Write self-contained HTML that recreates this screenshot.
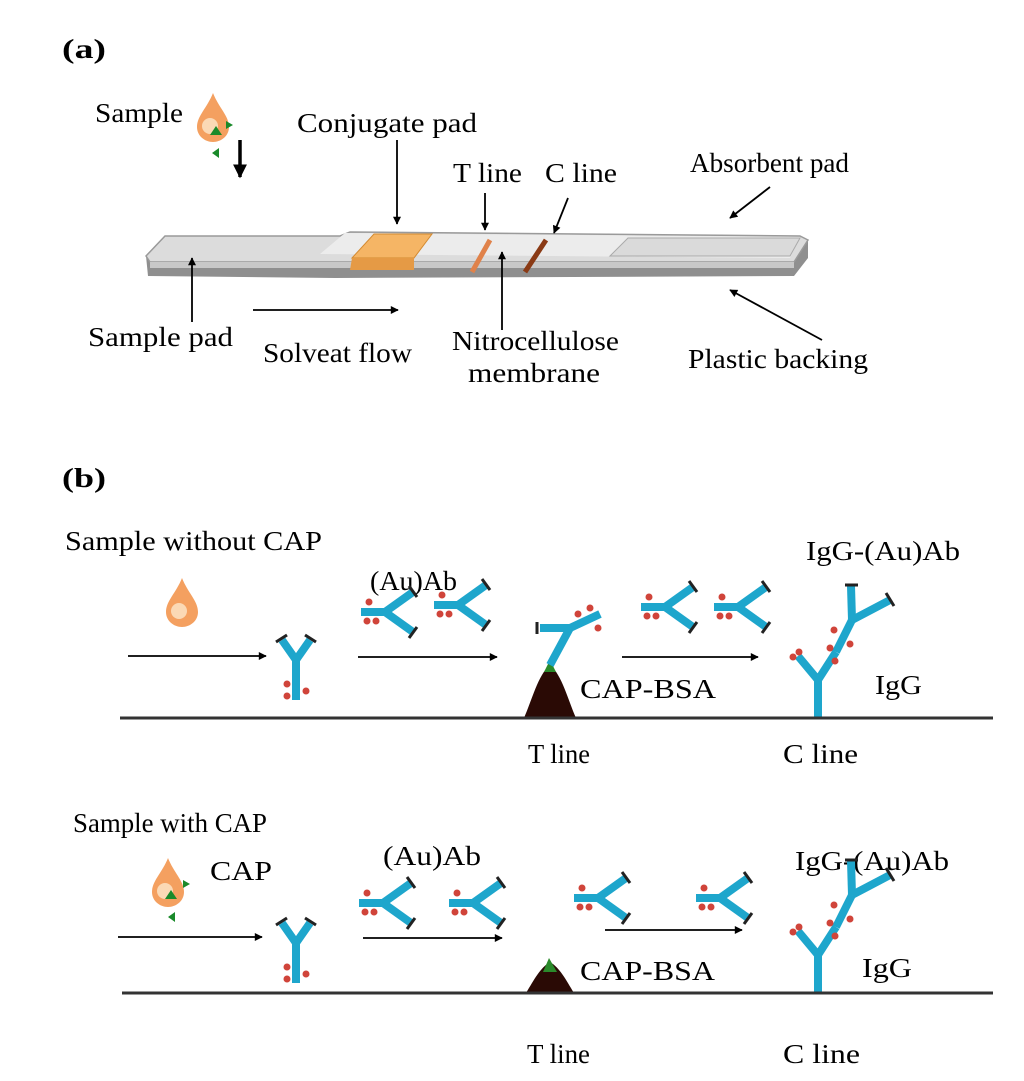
<!DOCTYPE html>
<html><head><meta charset="utf-8"><style>
html,body{margin:0;padding:0;background:#fff;}
svg{display:block;}
text{font-family:"Liberation Serif",serif;fill:#000;font-size:27px;}
</style></head><body>
<svg width="1024" height="1081" viewBox="0 0 1024 1081" xmlns="http://www.w3.org/2000/svg">
<defs>
<marker id="ah" viewBox="0 0 10 10" refX="9" refY="5" markerWidth="9" markerHeight="8" orient="auto-start-reverse" markerUnits="userSpaceOnUse"><path d="M0,0 L10,5 L0,10 z" fill="#000"/></marker>
<marker id="ahb" viewBox="0 0 10 10" refX="9" refY="5" markerWidth="14" markerHeight="14" orient="auto" markerUnits="userSpaceOnUse"><path d="M0,0 L10,5 L0,10 z" fill="#000"/></marker>
<g id="side">
<g stroke="#1ea6cc" stroke-width="8" stroke-linecap="butt" fill="none">
<line x1="-24" y1="0" x2="0" y2="0"/><line x1="0" y1="0" x2="28" y2="-20"/><line x1="0" y1="0" x2="28" y2="20"/></g>
<g stroke="#222" stroke-width="3"><line x1="24" y1="-26" x2="32" y2="-15"/><line x1="24" y1="26" x2="32" y2="15"/></g>
<g fill="#d0443a"><circle cx="-16" cy="-10" r="3.5"/><circle cx="-18" cy="9" r="3.5"/><circle cx="-9" cy="9" r="3.5"/></g>
</g>
<g id="up">
<g stroke="#1ea6cc" stroke-width="8" fill="none">
<line x1="0" y1="0" x2="0" y2="40"/><line x1="0" y1="0" x2="-14" y2="-20"/><line x1="0" y1="0" x2="14" y2="-20"/></g>
<g stroke="#222" stroke-width="3"><line x1="-20" y1="-18" x2="-9" y2="-25"/><line x1="20" y1="-18" x2="9" y2="-25"/></g>
<g fill="#d0443a"><circle cx="-9" cy="24" r="3.5"/><circle cx="-9" cy="36" r="3.5"/><circle cx="10" cy="31" r="3.5"/></g>
</g>
<g id="drop">
<path d="M0,-25 C6,-10 16,-2 16,9 C16,18 8,24 0,24 C-8,24 -16,18 -16,9 C-16,-2 -6,-10 0,-25 z" fill="#f4a060"/>
<circle cx="-3" cy="8" r="8" fill="#fbd9b5"/>
</g>
<g id="cline">
<g stroke="#1ea6cc" stroke-width="8" fill="none">
<line x1="0" y1="0" x2="0" y2="-38"/><line x1="0" y1="-38" x2="-20" y2="-62"/><line x1="0" y1="-38" x2="18" y2="-66"/>
<line x1="18" y1="-66" x2="34" y2="-98"/><line x1="34" y1="-98" x2="33" y2="-132"/><line x1="34" y1="-98" x2="72" y2="-118"/></g>
<g stroke="#222" stroke-width="3"><line x1="27" y1="-133" x2="40" y2="-133"/><line x1="68" y1="-125" x2="76" y2="-112"/></g>
<g fill="#d0443a"><circle cx="-25" cy="-61" r="3.5"/><circle cx="-19" cy="-66" r="3.5"/><circle cx="17" cy="-57" r="3.5"/><circle cx="12" cy="-70" r="3.5"/><circle cx="16" cy="-88" r="3.5"/><circle cx="32" cy="-74" r="3.5"/></g>
</g>
</defs>

<text x="62" y="58" font-weight="bold" textLength="44" lengthAdjust="spacingAndGlyphs">(a)</text>
<text x="95" y="122" textLength="88" lengthAdjust="spacingAndGlyphs">Sample</text>
<use href="#drop" x="213" y="118"/>
<path d="M226,121 l7,4 l-7,4 z M160,0 z M219,148 l-7,5 l7,5 z M216,126 l6,9 l-12,0z" fill="#1a8a2a"/>
<line x1="240" y1="140" x2="240" y2="177" stroke="#000" stroke-width="3.5" marker-end="url(#ahb)"/>
<text x="297" y="132" textLength="180" lengthAdjust="spacingAndGlyphs">Conjugate pad</text>
<text x="453" y="182" textLength="69" lengthAdjust="spacingAndGlyphs">T line</text>
<text x="545" y="182" textLength="72" lengthAdjust="spacingAndGlyphs">C line</text>
<text x="690" y="172" textLength="159" lengthAdjust="spacingAndGlyphs">Absorbent pad</text>

<!-- strip -->
<path d="M146,256 L165,236 L340,236 L350,232 L800,236 L808,240 L808,258 L794,276 L335,278 L148,276 z" fill="#8f8f8f"/>
<path d="M146,256 L165,236 L340,236 L350,232 L800,236 L808,240 L794,262 L150,262 z" fill="#dcdcdc" stroke="#9a9a9a" stroke-width="1.5"/>
<path d="M150,262 L794,262 L794,268 L150,268 z" fill="#c8c8c8"/>
<path d="M320,254 L345,233 L800,237 L790,258 Z" fill="#ececec"/>
<path d="M610,256 L628,238 L800,238 L790,256 z" fill="#dadada" stroke="#aaa" stroke-width="1"/>
<path d="M352,258 L374,234 L432,234 L414,258 z" fill="#f5b565" stroke="#d48a30" stroke-width="1"/>
<path d="M352,258 L414,258 L414,270 L350,270 z" fill="#e59a45"/>
<line x1="472" y1="272" x2="490" y2="240" stroke="#e0824a" stroke-width="5"/>
<line x1="525" y1="272" x2="546" y2="240" stroke="#8a3a15" stroke-width="5"/>

<line x1="397" y1="140" x2="397" y2="224" stroke="#000" stroke-width="1.8" marker-end="url(#ah)"/>
<line x1="485" y1="193" x2="485" y2="230" stroke="#000" stroke-width="1.8" marker-end="url(#ah)"/>
<line x1="568" y1="198" x2="554" y2="233" stroke="#000" stroke-width="1.8" marker-end="url(#ah)"/>
<line x1="770" y1="187" x2="730" y2="218" stroke="#000" stroke-width="1.8" marker-end="url(#ah)"/>
<line x1="192" y1="322" x2="192" y2="258" stroke="#000" stroke-width="1.8" marker-end="url(#ah)"/>
<line x1="253" y1="310" x2="398" y2="310" stroke="#000" stroke-width="1.8" marker-end="url(#ah)"/>
<line x1="502" y1="330" x2="502" y2="252" stroke="#000" stroke-width="1.8" marker-end="url(#ah)"/>
<line x1="822" y1="340" x2="730" y2="290" stroke="#000" stroke-width="1.8" marker-end="url(#ah)"/>

<text x="88" y="346" textLength="145" lengthAdjust="spacingAndGlyphs">Sample pad</text>
<text x="263" y="362" textLength="149" lengthAdjust="spacingAndGlyphs">Solveat flow</text>
<text x="452" y="350" textLength="167" lengthAdjust="spacingAndGlyphs">Nitrocellulose</text>
<text x="468" y="382" textLength="132" lengthAdjust="spacingAndGlyphs">membrane</text>
<text x="688" y="368" textLength="180" lengthAdjust="spacingAndGlyphs">Plastic backing</text>

<text x="62" y="487" font-weight="bold" textLength="44" lengthAdjust="spacingAndGlyphs">(b)</text>

<!-- section 1 -->
<text x="65" y="550" textLength="257" lengthAdjust="spacingAndGlyphs">Sample without CAP</text>
<use href="#drop" x="182" y="603"/>
<text x="370" y="590" textLength="87" lengthAdjust="spacingAndGlyphs">(Au)Ab</text>
<text x="806" y="560" textLength="154" lengthAdjust="spacingAndGlyphs">IgG-(Au)Ab</text>
<line x1="128" y1="656" x2="266" y2="656" stroke="#000" stroke-width="1.8" marker-end="url(#ah)"/>
<line x1="358" y1="657" x2="497" y2="657" stroke="#000" stroke-width="1.8" marker-end="url(#ah)"/>
<line x1="622" y1="657" x2="758" y2="657" stroke="#000" stroke-width="1.8" marker-end="url(#ah)"/>
<use href="#up" x="296" y="660"/>
<use href="#side" x="385" y="612"/>
<use href="#side" x="458" y="605"/>
<use href="#side" x="665" y="607"/>
<use href="#side" x="738" y="607"/>
<path d="M524,718 C532,700 538,675 550,665 C562,675 568,700 576,718 z" fill="#2a0a05"/>
<path d="M544,672 L550,660 L556,672 z" fill="#2a8a2a"/>
<g stroke="#1ea6cc" stroke-width="8" fill="none"><line x1="550" y1="665" x2="570" y2="628"/><line x1="570" y1="628" x2="540" y2="628"/><line x1="570" y1="628" x2="600" y2="614"/></g>
<line x1="537" y1="622" x2="537" y2="634" stroke="#222" stroke-width="3"/>
<g fill="#d0443a"><circle cx="578" cy="614" r="3.5"/><circle cx="590" cy="608" r="3.5"/><circle cx="598" cy="628" r="3.5"/></g>
<use href="#cline" x="818" y="718"/>
<text x="580" y="698" textLength="136" lengthAdjust="spacingAndGlyphs">CAP-BSA</text>
<text x="875" y="694" textLength="47" lengthAdjust="spacingAndGlyphs">IgG</text>
<line x1="120" y1="718" x2="993" y2="718" stroke="#333" stroke-width="3"/>
<text x="528" y="763" textLength="62" lengthAdjust="spacingAndGlyphs">T line</text>
<text x="783" y="763" textLength="75" lengthAdjust="spacingAndGlyphs">C line</text>

<!-- section 2 -->
<text x="73" y="832" textLength="194" lengthAdjust="spacingAndGlyphs">Sample with CAP</text>
<use href="#drop" x="168" y="883"/>
<path d="M183,880 l7,4 l-7,4 z M175,912 l-7,5 l7,5 z M171,890 l6,9 l-12,0z" fill="#1a8a2a"/>
<text x="210" y="880" textLength="62" lengthAdjust="spacingAndGlyphs">CAP</text>
<text x="383" y="865" textLength="98" lengthAdjust="spacingAndGlyphs">(Au)Ab</text>
<text x="795" y="870" textLength="154" lengthAdjust="spacingAndGlyphs">IgG-(Au)Ab</text>
<line x1="118" y1="937" x2="262" y2="937" stroke="#000" stroke-width="1.8" marker-end="url(#ah)"/>
<line x1="363" y1="938" x2="502" y2="938" stroke="#000" stroke-width="1.8" marker-end="url(#ah)"/>
<line x1="605" y1="930" x2="742" y2="930" stroke="#000" stroke-width="1.8" marker-end="url(#ah)"/>
<use href="#up" x="296" y="943"/>
<use href="#side" x="383" y="903"/>
<use href="#side" x="473" y="903"/>
<use href="#side" x="598" y="898"/>
<use href="#side" x="720" y="898"/>
<path d="M526,993 C534,980 540,968 550,962 C560,968 566,980 574,993 z" fill="#2a0a05"/>
<path d="M543,972 L549,958 L557,972 z" fill="#2a8a2a"/>
<use href="#cline" x="818" y="993"/>
<text x="580" y="980" textLength="135" lengthAdjust="spacingAndGlyphs">CAP-BSA</text>
<text x="862" y="977" textLength="50" lengthAdjust="spacingAndGlyphs">IgG</text>
<line x1="122" y1="993" x2="993" y2="993" stroke="#333" stroke-width="3"/>
<text x="527" y="1063" textLength="63" lengthAdjust="spacingAndGlyphs">T line</text>
<text x="783" y="1063" textLength="77" lengthAdjust="spacingAndGlyphs">C line</text>
</svg>
</body></html>
